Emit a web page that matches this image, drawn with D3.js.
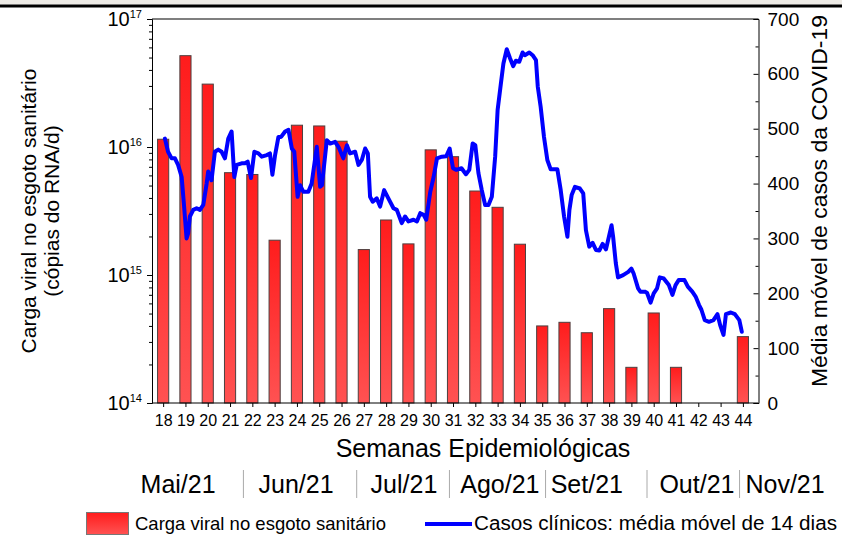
<!DOCTYPE html>
<html><head><meta charset="utf-8">
<script src="https://cdn.jsdelivr.net/npm/d3@7"></script>
<style>
body{margin:0;background:#fff}
svg{display:block}
text{font-family:"Liberation Sans",Arial,Helvetica,sans-serif;fill:#000}
</style>
</head><body>
<svg id="c" width="842" height="539"></svg>
<script>
// ---------- DATA ----------
const weeks = [18,19,20,21,22,23,24,25,26,27,28,29,30,31,32,33,34,35,36,37,38,39,40,41,42,43,44];
const viralLoad = [1.15e16,5.17e16,3.1e16,6.3e15,6.1e15,1.87e15,1.48e16,1.46e16,1.11e16,1.58e15,2.69e15,1.75e15,9.5e15,8.4e15,4.53e15,3.38e15,1.74e15,4.0e14,4.27e14,3.54e14,5.46e14,1.9e14,5.05e14,1.9e14,null,null,3.3e14];
const caseWeek = [18.08,18.22,18.38,18.53,18.67,18.83,18.94,19.05,19.12,19.20,19.35,19.50,19.65,19.80,19.95,20.02,20.10,20.17,20.32,20.47,20.62,20.77,20.92,21.07,21.19,21.30,21.52,21.67,21.79,21.94,22.09,22.27,22.42,22.65,22.79,22.90,23.02,23.17,23.29,23.47,23.62,23.77,23.88,24.03,24.14,24.29,24.51,24.66,24.89,25.04,25.12,25.34,25.49,25.71,25.86,26.08,26.24,26.38,26.61,26.76,26.91,27.06,27.18,27.28,27.40,27.58,27.73,27.91,28.10,28.33,28.48,28.70,28.85,29.00,29.23,29.38,29.53,29.68,29.80,29.98,30.13,30.28,30.50,30.70,30.85,31.00,31.15,31.38,31.58,31.73,31.88,32.00,32.14,32.29,32.44,32.59,32.74,32.89,33.00,33.14,33.26,33.41,33.56,33.70,33.82,33.97,34.12,34.22,34.42,34.57,34.72,34.80,34.93,35.08,35.23,35.38,35.68,35.83,35.98,36.13,36.22,36.32,36.47,36.69,36.84,36.96,37.11,37.26,37.41,37.56,37.71,37.86,38.11,38.18,38.30,38.40,38.63,38.86,39.00,39.10,39.30,39.40,39.60,39.70,39.86,40.00,40.15,40.27,40.45,40.68,40.84,40.98,41.12,41.38,41.53,41.73,41.88,42.03,42.14,42.29,42.48,42.68,42.86,42.98,43.13,43.24,43.46,43.64,43.84,43.95];
const caseValue = [482,458,446,446,434,412,358,300,309,340,352,355,352,361,400,422,412,406,458,462,458,446,482,495,412,434,437,437,440,410,458,455,449,452,455,416,452,485,485,495,498,464,458,376,397,385,385,400,467,394,397,479,473,476,467,446,470,455,458,434,443,464,455,376,367,373,358,388,373,355,352,328,340,331,334,331,346,343,334,385,412,446,449,450,464,428,425,428,417,425,473,470,419,388,361,361,376,449,534,580,619,645,628,614,624,622,639,634,639,634,625,577,540,485,443,426,426,388,340,303,352,379,394,391,382,315,285,292,279,278,290,280,324,303,255,229,233,239,245,236,209,203,203,201,183,200,209,229,227,215,197,215,224,224,212,203,194,179,170,151,148,151,162,142,124,162,165,162,151,130];
const leftMajor = [1e14,1e15,1e16,1e17];
const leftExp = ["14","15","16","17"];
const rightTicks = [0,100,200,300,400,500,600,700];
const months = ["Mai/21","Jun/21","Jul/21","Ago/21","Set/21","Out/21","Nov/21"];
const monthCenterWeek = [18.67,23.96,28.8,33.1,37.0,41.94,45.89];
const monthBoundaryWeek = [21.6,26.68,30.84,35.15,39.7,43.85];
const xTitle = "Semanas Epidemiológicas";
const yLeftTitle = ["Carga viral no esgoto sanitário","(cópias do RNA/d)"];
const yRightTitle = "Média móvel de casos da COVID-19";
const legendLabels = ["Carga viral no esgoto sanitário","Casos clínicos: média móvel de 14 dias"];

// ---------- CHART ----------
const W=842,H=539;
const m={left:152,right:758.5,top:19,bottom:403};
const svg=d3.select("#c");
svg.append("rect").attr("width",W).attr("height",H).attr("fill","#fff");
svg.append("rect").attr("x",0).attr("y",0).attr("width",W).attr("height",4.5).attr("fill","#eeebe6");
svg.append("rect").attr("x",0).attr("y",4.5).attr("width",W).attr("height",3).attr("fill","#000");

const defs=svg.append("defs");
const grad=defs.append("linearGradient").attr("id","barGrad").attr("x1",0).attr("y1",0).attr("x2",0).attr("y2",1);
grad.append("stop").attr("offset","0%").attr("stop-color","#ff1c1c");
grad.append("stop").attr("offset","100%").attr("stop-color","#ff5252");

const x=d3.scaleLinear().domain([17.5,44.7]).range([m.left,m.right]);
const yL=d3.scaleLog().domain([1e14,1e17]).range([m.bottom,m.top]);
const yR=d3.scaleLinear().domain([0,700]).range([m.bottom,m.top]);

// bars
const barData=weeks.map((w,i)=>({w,v:viralLoad[i]})).filter(d=>d.v!=null);
svg.append("g").selectAll("rect").data(barData).join("rect")
  .attr("x",d=>x(d.w-0.25)).attr("width",d=>x(d.w+0.25)-x(d.w-0.25))
  .attr("y",d=>yL(d.v)).attr("height",d=>m.bottom-yL(d.v))
  .attr("fill","url(#barGrad)").attr("stroke","#4d4040").attr("stroke-width",1);

// line
const pts=caseWeek.map((w,i)=>[w,caseValue[i]]);
svg.append("path").datum(pts)
  .attr("d",d3.line().x(d=>x(d[0])).y(d=>yR(d[1])))
  .attr("fill","none").attr("stroke","#0000ff").attr("stroke-width",4)
  .attr("stroke-linejoin","round").attr("stroke-linecap","round");

// top frame
svg.append("line").attr("x1",m.left).attr("x2",m.right).attr("y1",m.top).attr("y2",m.top)
  .attr("stroke","#555").attr("stroke-width",1.5);

// left axis
const minor=[];
[1e14,1e15,1e16].forEach(b=>{for(let k=2;k<=9;k++)minor.push(b*k);});
const gL=svg.append("g").attr("transform",`translate(${m.left},0)`);
gL.call(d3.axisLeft(yL).tickValues(leftMajor).tickSize(5).tickFormat(""));
gL.append("g").call(d3.axisLeft(yL).tickValues(minor).tickSize(3).tickFormat("")).select(".domain").remove();
gL.selectAll("path,line").attr("stroke","#000");
leftMajor.forEach((v,i)=>{
  const t=svg.append("text").attr("x",142).attr("y",yL(v)+7).attr("text-anchor","end").attr("font-size",20);
  t.append("tspan").text("10");
  t.append("tspan").attr("font-size",11).attr("dy",-8).text(leftExp[i]);
});

// right axis
const gR=svg.append("g").attr("transform",`translate(${m.right},0)`);
gR.call(d3.axisRight(yR).tickValues(rightTicks).tickSize(-5).tickPadding(9).tickFormat(d3.format("d")));
gR.append("g").call(d3.axisRight(yR).tickValues(d3.range(50,700,100)).tickSize(-3).tickFormat("")).select(".domain").remove();
gR.selectAll("path,line").attr("stroke","#000");
gR.selectAll("text").attr("font-size",19).attr("font-family",null);

// bottom axis
const gB=svg.append("g").attr("transform",`translate(0,${m.bottom})`);
gB.call(d3.axisBottom(x).tickValues(weeks).tickSize(4).tickPadding(8).tickFormat(d3.format("d")));
gB.select(".domain").attr("d",`M${m.left},0H${m.right}`);
gB.selectAll("path,line").attr("stroke","#000");
gB.selectAll("text").attr("font-size",16).attr("font-family",null);

// titles
svg.append("text").attr("x",483).attr("y",457).attr("text-anchor","middle").attr("font-size",25).text(xTitle);
svg.append("text").attr("transform","translate(36,211) rotate(-90)").attr("text-anchor","middle").attr("font-size",21).text(yLeftTitle[0]);
svg.append("text").attr("transform","translate(59,211) rotate(-90)").attr("text-anchor","middle").attr("font-size",21).text(yLeftTitle[1]);
svg.append("text").attr("transform","translate(827,201) rotate(-90)").attr("text-anchor","middle").attr("font-size",22)
  .attr("textLength",372).attr("lengthAdjust","spacingAndGlyphs").text(yRightTitle);

// months
months.forEach((mo,i)=>{
  svg.append("text").attr("x",x(monthCenterWeek[i])).attr("y",493).attr("text-anchor","middle").attr("font-size",25).text(mo);
});
monthBoundaryWeek.forEach(w=>{
  svg.append("line").attr("x1",x(w)).attr("x2",x(w)).attr("y1",470).attr("y2",498).attr("stroke","#aaa").attr("stroke-width",1);
});

// legend
svg.append("rect").attr("x",86.5).attr("y",512.5).attr("width",42).attr("height",22).attr("fill","url(#barGrad)").attr("stroke","#777");
svg.append("text").attr("x",135).attr("y",530).attr("font-size",19)
  .attr("textLength",251).attr("lengthAdjust","spacingAndGlyphs").text(legendLabels[0]);
svg.append("line").attr("x1",425).attr("x2",472).attr("y1",524).attr("y2",524).attr("stroke","#0000ff").attr("stroke-width",4);
svg.append("text").attr("x",474).attr("y",530).attr("font-size",20)
  .attr("textLength",363).attr("lengthAdjust","spacingAndGlyphs").text(legendLabels[1]);
</script>
</body></html>
